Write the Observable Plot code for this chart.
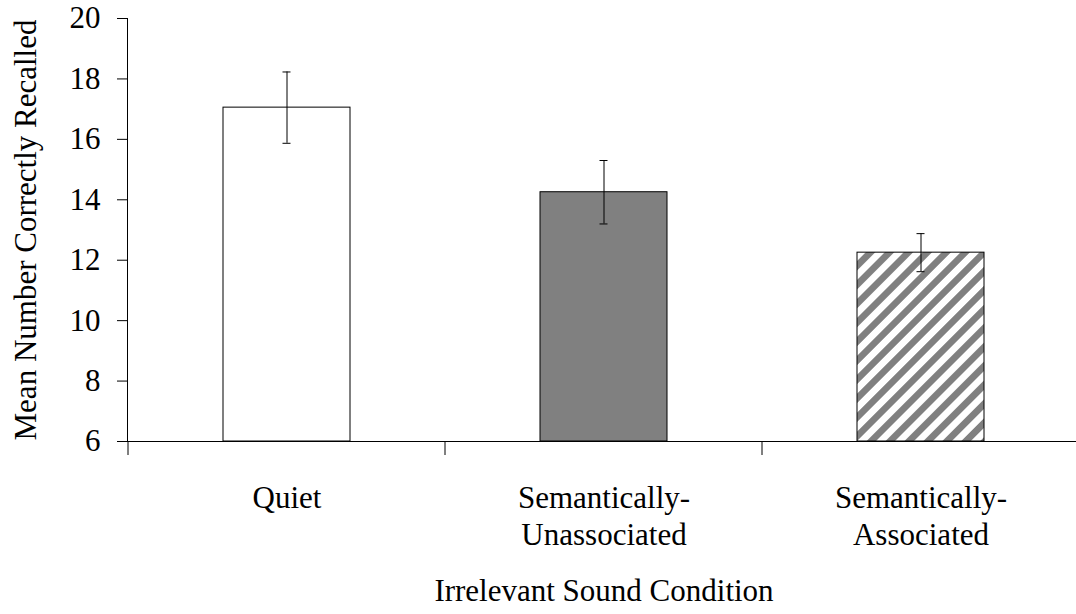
<!DOCTYPE html>
<html>
<head>
<meta charset="utf-8">
<script src="https://cdn.jsdelivr.net/npm/d3@7"></script>
<script src="https://cdn.jsdelivr.net/npm/@observablehq/plot@0.6"></script>
<style>
  html, body { margin: 0; padding: 0; background: #fff; overflow: hidden; }
  #chart svg { display: block; }
</style>
</head>
<body>
<div id="chart"></div>
<script>
// ---- data ----
const categories = ["Quiet", "Semantically-\nUnassociated", "Semantically-\nAssociated"];
const means = [17.05, 14.25, 12.25];
const errors = [1.18, 1.05, 0.63];
const yTicks = [6, 8, 10, 12, 14, 16, 18, 20];
const yTitle = "Mean Number Correctly Recalled";
const xTitle = "Irrelevant Sound Condition";

// ---- styles ----
const fills = ["#ffffff", "#808080", "url(#stripes)"];

const data = categories.map((c, i) => ({cat: c, mean: means[i], err: errors[i], fill: fills[i]}));
const yDomain = [yTicks[0], yTicks[yTicks.length - 1]];

function defs() {
  const s = d3.create("svg:defs");
  const p = s.append("pattern")
    .attr("id", "stripes")
    .attr("patternUnits", "userSpaceOnUse")
    .attr("width", 13.4).attr("height", 13.4)
    .attr("patternTransform", "rotate(45)");
  p.append("rect").attr("width", 13.4).attr("height", 13.4).attr("fill", "#ffffff");
  p.append("rect").attr("width", 6.7).attr("height", 13.4).attr("fill", "#808080");
  return s.node();
}

function categoryTicks(index, scales, values, dims) {
  const x = scales.x;
  const step = typeof x.step === "function" ? x.step() : x.step;
  const bw = typeof x.bandwidth === "function" ? x.bandwidth() : x.bandwidth;
  const edges = categories.map(c => x(c) - (step - bw) / 2);
  edges.push(edges[edges.length - 1] + step);
  const y0 = dims.height - dims.marginBottom;
  const g = d3.create("svg:g").attr("stroke", "#000").attr("stroke-width", 1);
  g.selectAll("line").data(edges).join("line")
    .attr("x1", d => d).attr("x2", d => d)
    .attr("y1", y0).attr("y2", y0 + 14);
  return g.node();
}

const chart = Plot.plot({
  width: 1076,
  height: 614,
  marginTop: 18,
  marginBottom: 173,
  marginLeft: 127,
  marginRight: -4,
  style: {fontFamily: "'Liberation Serif', 'Times New Roman', serif", fontSize: "31px", color: "#000", background: "#fff", overflow: "hidden"},
  x: {domain: categories, axis: null, paddingInner: 0.6, paddingOuter: 0.3},
  y: {domain: yDomain, ticks: yTicks, tickSize: 10, tickPadding: 17, line: true, label: null, tickFormat: d => String(d)},
  color: {type: "identity"},
  marks: [
    defs,
    Plot.barY(data, {x: "cat", y1: yDomain[0], y2: "mean", fill: "fill", stroke: "#000", strokeWidth: 1}),
    Plot.ruleX(data, {x: "cat", y1: d => d.mean - d.err, y2: d => d.mean + d.err, stroke: "#000", strokeWidth: 1}),
    Plot.tickY(data, {x: "cat", y: d => d.mean + d.err, stroke: "#000", strokeWidth: 1, insetLeft: 59.5, insetRight: 59.5}),
    Plot.tickY(data, {x: "cat", y: d => d.mean - d.err, stroke: "#000", strokeWidth: 1, insetLeft: 59.5, insetRight: 59.5}),
    Plot.ruleY([yDomain[0]], {stroke: "#000", strokeWidth: 1}),
    categoryTicks,
    Plot.text(data, {x: "cat", text: "cat", frameAnchor: "bottom", lineAnchor: "top", lineHeight: 1.2, dy: 40, fill: "#000"}),
    Plot.text([xTitle], {frameAnchor: "bottom", lineAnchor: "top", dy: 137, fill: "#000"}),
    Plot.text([yTitle], {frameAnchor: "left", textAnchor: "middle", rotate: -90, lineAnchor: "bottom", dx: -92, fill: "#000"})
  ]
});
document.getElementById("chart").appendChild(chart);
</script>
</body>
</html>
